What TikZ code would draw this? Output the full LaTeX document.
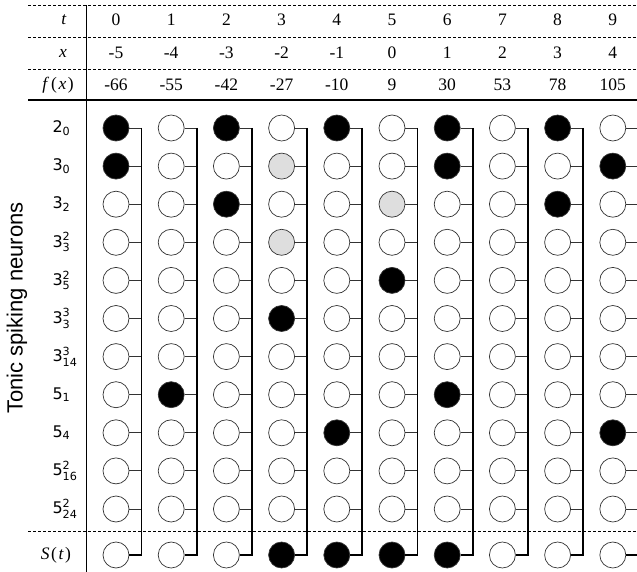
\documentclass[tikz,border=0pt]{standalone}
\usepackage{fontspec}
\usepackage{amsmath}
\setmainfont{Liberation Serif}
\newfontfamily\lblfont{DejaVu Sans}
\newfontfamily\sidefont{Liberation Sans}
\usetikzlibrary{positioning}

% neuron label: base, superscript, subscript
\newcommand{\nsub}[2]{#1$_{\text{#2}}$}
\newcommand{\nsupsub}[3]{#1$^{\text{#2}}_{\text{#3}}$}

\begin{document}
\begin{tikzpicture}[
  x=1pt, y=-1pt,
  state0/.style={circle, draw=black!80, line width=0.7pt, minimum size=26pt,
                 inner sep=0pt, fill=white},
  state1/.style={state0, fill=black},
  state2/.style={state0, fill=black!13},
  stub/.style={draw=black!80, line width=0.9pt},
  bus/.style={draw=black, line width=1.8pt},
  sep/.style={dash pattern=on 3pt off 2pt, line width=0.7pt},
  hdr/.style={font=\fontsize{17.5}{17.5}\selectfont},
  lbl/.style={font=\lblfont\fontsize{16}{16}\selectfont, anchor=west}
]
\useasboundingbox (0,0) rectangle (637,572);

%% --- Table frame ---
\draw[sep] (28,5) -- (637,5);
\draw[sep] (28,37) -- (637,37);
\draw[sep] (28,69) -- (637,69);
\draw[line width=1.1pt] (28,100) -- (637,100);
\draw[sep] (28,531) -- (637,531);
\draw[line width=0.8pt] (86,5) -- (86,572);

%% --- Header rows ---
\node[hdr] (tlab) at (64,20) {\textit{t}};
\node[hdr] (xlab) at (63,53) {\textit{x}};
\node[hdr] (flab) at (58,85) {\textit{f}\hspace{2pt}(\hspace{1.5pt}\textit{x}\hspace{1.5pt})};
\foreach \tv/\xv/\fv [count=\c from 0] in
  {0/-5/-66, 1/-4/-55, 2/-3/-42, 3/-2/-27, 4/-1/-10,
   5/0/9, 6/1/30, 7/2/53, 8/3/78, 9/4/105} {
  \node[hdr] (t-\c) at (116+55.2*\c,20) {\tv};
  \node[hdr] (x-\c) at (116+55.2*\c,53) {\xv};
  \node[hdr] (f-\c) at (116+55.2*\c,85) {\fv};
}

%% --- Neuron grid ---
\foreach \lab/\states [count=\r from 1] in {
  {\nsub{2}{0}}/{1,0,1,0,1,0,1,0,1,0},
  {\nsub{3}{0}}/{1,0,0,2,0,0,1,0,0,1},
  {\nsub{3}{2}}/{0,0,1,0,0,2,0,0,1,0},
  {\nsupsub{3}{2}{3}}/{0,0,0,2,0,0,0,0,0,0},
  {\nsupsub{3}{2}{5}}/{0,0,0,0,0,1,0,0,0,0},
  {\nsupsub{3}{3}{3}}/{0,0,0,1,0,0,0,0,0,0},
  {\nsupsub{3}{3}{14}}/{0,0,0,0,0,0,0,0,0,0},
  {\nsub{5}{1}}/{0,1,0,0,0,0,1,0,0,0},
  {\nsub{5}{4}}/{0,0,0,0,1,0,0,0,0,1},
  {\nsupsub{5}{2}{16}}/{0,0,0,0,0,0,0,0,0,0},
  {\nsupsub{5}{2}{24}}/{0,0,0,0,0,0,0,0,0,0}} {
  \node[lbl] (lab-\r) at (49,128+38.1*\r-38.1) {\lab};
  \foreach \st [count=\c from 0] in \states
    \node[state\st] (n\r-\c) at (116+55.2*\c,128+38.1*\r-38.1) {};
}

%% --- Output row ---
\node[hdr] (slab) at (56,555) {\textit{S}\hspace{1.5pt}(\hspace{1.5pt}\textit{t}\hspace{1.5pt})};
\foreach \st [count=\c from 0] in {0,0,0,1,1,1,1,0,0,0}
  \node[state\st] (s-\c) at (116+55.2*\c,555) {};

%% --- Wiring: stubs into a bus per column ---
\foreach \c in {0,...,9} {
  \coordinate (b\c) at (141.5+55.2*\c,128);
  \foreach \r in {1,...,11}
    \draw[stub] (n\r-\c.east) -- (n\r-\c.east -| b\c);
  \draw[bus] (b\c) |- (s-\c.east);
}

\node[rotate=90, font=\sidefont\fontsize{22}{22}\selectfont]
  (side) at (17,308) {Tonic spiking neurons};

\end{tikzpicture}
\end{document}
